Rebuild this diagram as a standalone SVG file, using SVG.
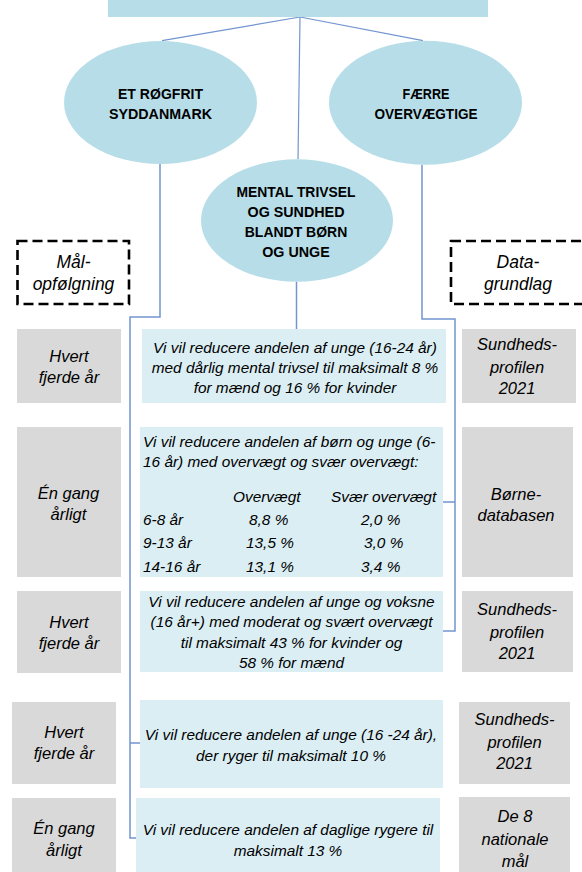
<svg xmlns="http://www.w3.org/2000/svg" width="582" height="872" viewBox="0 0 582 872">
<style>
.blue{fill:#b7dee8}
.goal{fill:#dbeef4}
.grey{fill:#d9d9d9}
.dash{fill:none;stroke:#000;stroke-width:2.6;stroke-dasharray:10 5}
.con{fill:none;stroke:#7295cf;stroke-width:1.5}
.con1{fill:none;stroke:#7295cf;stroke-width:1.2}
text{font-family:"Liberation Sans",Arial,sans-serif;fill:#000}
.b{font-weight:bold;font-size:15.5px;text-anchor:middle}
.g{font-style:italic;font-size:15.4px;text-anchor:middle}
.gl{font-style:italic;font-size:15.4px}
.s{font-style:italic;font-size:16.5px;text-anchor:middle}
.h{font-style:italic;font-size:17.5px;text-anchor:middle}
</style>
<rect width="582" height="872" fill="#fff"/>
<g id="connectors">
<path class="con1" d="M300 17 L162 40.7 M300 17 L423 40.7 M300 17 L298 159.3"/>
<path class="con" d="M296.5 281.7 V329"/>
<path class="con" d="M160 164 V317 H130 V838 H136 M130 743 H140"/>
<path class="con" d="M422 164.7 V319 H455 V631 H443 M455 502 H443"/>
</g>
<g id="top"><rect class="blue" x="108" y="0" width="380" height="17"/></g>
<g id="ellipse-roegfrit">
<ellipse class="blue" cx="160.5" cy="102.5" rx="96.5" ry="61.5"/>
<text class="b" x="160.5" y="99.3" textLength="85" lengthAdjust="spacingAndGlyphs">ET RØGFRIT</text>
<text class="b" x="160.5" y="119.3" textLength="103" lengthAdjust="spacingAndGlyphs">SYDDANMARK</text>
</g>
<g id="ellipse-overvaegt">
<ellipse class="blue" cx="425.5" cy="102.7" rx="96.5" ry="62"/>
<text class="b" x="426" y="99.3" textLength="47" lengthAdjust="spacingAndGlyphs">FÆRRE</text>
<text class="b" x="426" y="119.3" textLength="103" lengthAdjust="spacingAndGlyphs">OVERVÆGTIGE</text>
</g>
<g id="ellipse-mental">
<ellipse class="blue" cx="297" cy="220.5" rx="96" ry="61.2"/>
<text class="b" x="296" y="196.7" textLength="119" lengthAdjust="spacingAndGlyphs">MENTAL TRIVSEL</text>
<text class="b" x="296" y="216.7" textLength="97" lengthAdjust="spacingAndGlyphs">OG SUNDHED</text>
<text class="b" x="296" y="236.7" textLength="102.5" lengthAdjust="spacingAndGlyphs">BLANDT BØRN</text>
<text class="b" x="296" y="257.3" textLength="67.5" lengthAdjust="spacingAndGlyphs">OG UNGE</text>
</g>
<g id="header-maal">
<rect class="dash" x="17.5" y="241" width="111.5" height="63"/>
<text class="h" x="73.5" y="267.5">Mål-</text>
<text class="h" x="73.5" y="290">opfølgning</text>
</g>
<g id="header-data">
<rect class="dash" x="451" y="241" width="140" height="63"/>
<text class="h" x="518" y="267.5">Data-</text>
<text class="h" x="518" y="290">grundlag</text>
</g>
<g id="row1-freq">
<rect class="grey" x="17" y="329" width="104" height="74"/>
<text class="s" x="69" y="361.5">Hvert</text>
<text class="s" x="69" y="383">fjerde år</text>
</g>
<g id="row1-goal">
<rect class="goal" x="142" y="329" width="304" height="74"/>
<text class="g" x="295" y="352.5">Vi vil reducere andelen af unge (16-24 år)</text>
<text class="g" x="295" y="372.5">med dårlig mental trivsel til maksimalt 8 %</text>
<text class="g" x="295" y="392.5">for mænd og 16 % for kvinder</text>
</g>
<g id="row1-data">
<rect class="grey" x="462" y="329" width="114" height="74"/>
<text class="s" x="517" y="350">Sundheds-</text>
<text class="s" x="517" y="372.5">profilen</text>
<text class="s" x="517" y="394">2021</text>
</g>
<g id="row2-freq">
<rect class="grey" x="17" y="427" width="104" height="150"/>
<text class="s" x="68.5" y="498.5">Én gang</text>
<text class="s" x="68.5" y="519.5">årligt</text>
</g>
<g id="row2-goal">
<rect class="goal" x="140" y="427" width="303" height="150"/>
<text class="gl" x="143" y="447">Vi vil reducere andelen af børn og unge (6-</text>
<text class="gl" x="143" y="467">16 år) med overvægt og svær overvægt:</text>
<text class="gl" x="233" y="502">Overvægt</text>
<text class="gl" x="331" y="502">Svær overvægt</text>
<text class="gl" x="143" y="525">6-8 år</text>
<text class="gl" x="249" y="525">8,8 %</text>
<text class="gl" x="361" y="525">2,0 %</text>
<text class="gl" x="143" y="548">9-13 år</text>
<text class="gl" x="246" y="548">13,5 %</text>
<text class="gl" x="364" y="548">3,0 %</text>
<text class="gl" x="143" y="571.5">14-16 år</text>
<text class="gl" x="246" y="571.5">13,1 %</text>
<text class="gl" x="361" y="571.5">3,4 %</text>
</g>
<g id="row2-data">
<rect class="grey" x="462" y="427" width="111" height="150"/>
<text class="s" x="516" y="499.5">Børne-</text>
<text class="s" x="516" y="521">databasen</text>
</g>
<g id="row3-freq">
<rect class="grey" x="17" y="591" width="104" height="82"/>
<text class="s" x="69" y="627.5">Hvert</text>
<text class="s" x="69" y="649">fjerde år</text>
</g>
<g id="row3-goal">
<rect class="goal" x="140" y="591" width="303" height="81"/>
<text class="g" x="291.5" y="606.5">Vi vil reducere andelen af unge og voksne</text>
<text class="g" x="291.5" y="627">(16 år+) med moderat og svært overvægt</text>
<text class="g" x="291.5" y="647.5">til maksimalt 43 % for kvinder og</text>
<text class="g" x="291.5" y="668">58 % for mænd</text>
</g>
<g id="row3-data">
<rect class="grey" x="462" y="591" width="111" height="81"/>
<text class="s" x="517" y="615">Sundheds-</text>
<text class="s" x="517" y="637.5">profilen</text>
<text class="s" x="517" y="659">2021</text>
</g>
<g id="row4-freq">
<rect class="grey" x="12" y="702" width="104" height="82"/>
<text class="s" x="64" y="737.5">Hvert</text>
<text class="s" x="64" y="759">fjerde år</text>
</g>
<g id="row4-goal">
<rect class="goal" x="140" y="700" width="303" height="88"/>
<text class="g" x="291" y="740">Vi vil reducere andelen af unge (16 -24 år),</text>
<text class="g" x="291" y="760.5">der ryger til maksimalt 10 %</text>
</g>
<g id="row4-data">
<rect class="grey" x="459" y="702" width="111" height="82"/>
<text class="s" x="514.5" y="725">Sundheds-</text>
<text class="s" x="514.5" y="747.5">profilen</text>
<text class="s" x="514.5" y="769">2021</text>
</g>
<g id="row5-freq">
<rect class="grey" x="12" y="798" width="104" height="80"/>
<text class="s" x="64" y="834">Én gang</text>
<text class="s" x="64" y="855.5">årligt</text>
</g>
<g id="row5-goal">
<rect class="goal" x="136" y="798" width="304" height="80"/>
<text class="g" x="288" y="835">Vi vil reducere andelen af daglige rygere til</text>
<text class="g" x="288" y="855.5">maksimalt 13 %</text>
</g>
<g id="row5-data">
<rect class="grey" x="459" y="797" width="111" height="80"/>
<text class="s" x="515" y="822">De 8</text>
<text class="s" x="515" y="844.5">nationale</text>
<text class="s" x="515" y="866.5">mål</text>
</g>
</svg>
